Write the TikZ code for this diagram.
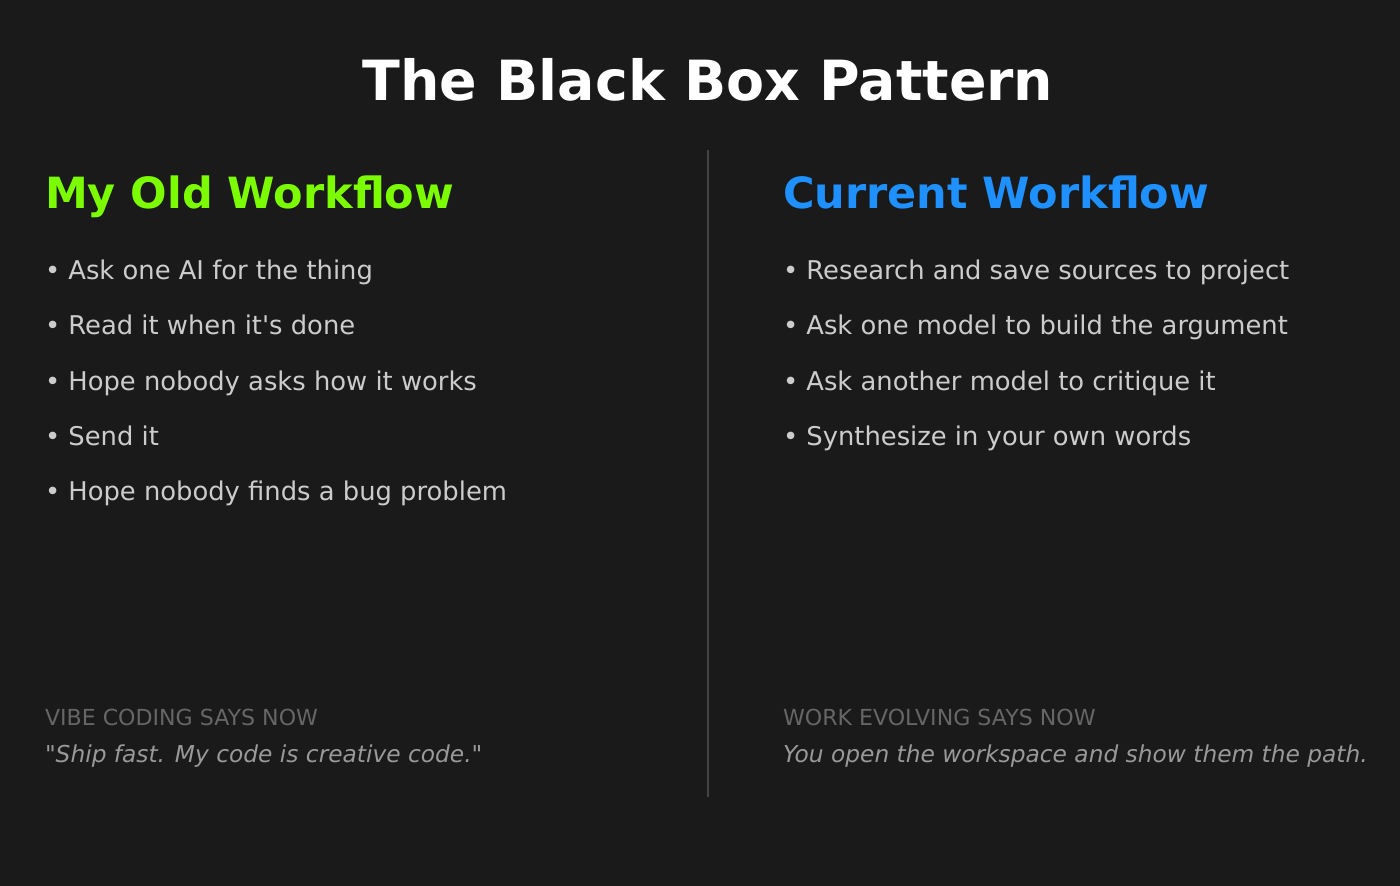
\documentclass[tikz,border=0pt]{standalone}
\usepackage{fontspec}
\setmainfont{DejaVu Sans}
\usepackage{tikz}
\definecolor{bg}{HTML}{1A1A1A}
\definecolor{oldgreen}{HTML}{7CFC00}
\definecolor{curblue}{HTML}{1E90FF}
\definecolor{itemgray}{HTML}{CCCCCC}
\definecolor{labelgray}{HTML}{666666}
\definecolor{quotegray}{HTML}{999999}
\definecolor{rulegray}{HTML}{444444}

\begin{document}
\begin{tikzpicture}[x=1pt, y=-1pt,
  every node/.style={inner sep=0pt, outer sep=0pt, anchor=base west},
  head/.style={font=\fontsize{43}{50}\selectfont\bfseries},
  item/.style={text=itemgray, font=\fontsize{25.8}{30}\selectfont},
  says/.style={text=labelgray, font=\fontsize{22.1}{26}\selectfont},
  quote/.style={text=quotegray, font=\fontsize{23.3}{27}\selectfont\itshape}]
  \fill[bg] (0,0) rectangle (1400,886);
  \useasboundingbox (0,0) rectangle (1400,886);
  \node (title) [anchor=base, text=white, font=\fontsize{55.4}{64}\selectfont\bfseries] at (708,100) {The Black Box Pattern};
  \coordinate (top) at (708,150);
  \coordinate (bot) at (708,797);
  \draw[rulegray, line width=1.2pt] (top) -- (bot);
  % left column
  \node (oldhead) [head, text=oldgreen] at (45,208) {My Old Workflow};
  \node (old1) [item] at (45,279) {• Ask one AI for the thing};
  \node (old2) [item] at (45,334) {• Read it when it\textquotesingle s done};
  \node (old3) [item] at (45,390) {• Hope nobody asks how it works};
  \node (old4) [item] at (45,445) {• Send it};
  \node (old5) [item] at (45,500) {• Hope nobody finds a bug problem};
  \node (oldsays) [says] at (45,725) {VIBE CODING SAYS NOW};
  \node (oldquote) [quote] at (45,762) {\textquotedbl Ship fast. My code is creative code.\textquotedbl};
  % right column
  \node (curhead) [head, text=curblue] at (783,208) {Current Workflow};
  \node (cur1) [item] at (783,279) {• Research and save sources to project};
  \node (cur2) [item] at (783,334) {• Ask one model to build the argument};
  \node (cur3) [item] at (783,390) {• Ask another model to critique it};
  \node (cur4) [item] at (783,445) {• Synthesize in your own words};
  \node (cursays) [says] at (783,725) {WORK EVOLVING SAYS NOW};
  \node (curquote) [quote] at (783,762) {You open the workspace and show them the path.};
\end{tikzpicture}
\end{document}
